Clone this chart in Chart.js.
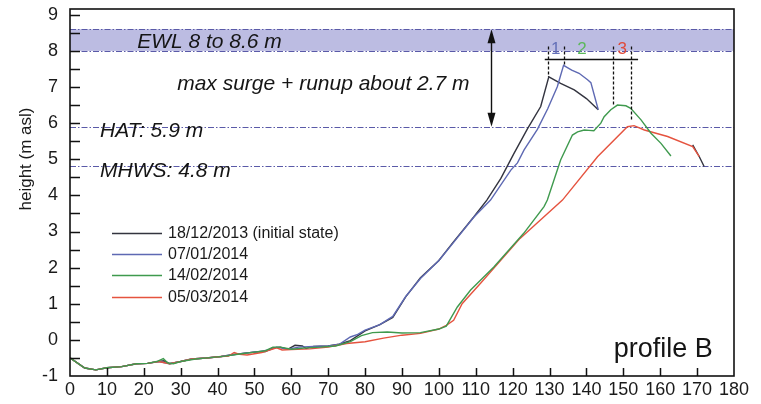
<!DOCTYPE html>
<html>
<head>
<meta charset="utf-8">
<script src="https://cdn.jsdelivr.net/npm/chart.js@4.4.0/dist/chart.umd.min.js"></script>
<style>
  html, body { margin: 0; padding: 0; background: #fff; }
  #c { display: block; }
</style>
</head>
<body>
<canvas id="c" width="761" height="404"></canvas>
<script>
// beach profile B — cross-shore distance (m) vs height (m asl)
const seriesLabels = ['18/12/2013 (initial state)', '07/01/2014', '14/02/2014', '05/03/2014'];
const seriesColors = ['#33343f', '#5e69b3', '#3f9a4e', '#e5533f'];

const distDec13 = [0, 4, 7, 10, 14, 18, 21, 24, 25.5, 27, 30, 33, 37, 41, 44, 48, 51, 53, 55, 57, 59, 61, 63, 64, 66, 70, 73, 76, 80, 84, 87.5, 91, 95, 100, 104, 109.5, 113, 116.8, 120.4, 124, 127.6, 129.8, 133, 136.7, 140, 143.2, 156, 168.8, 170.6, 171.9];
const hDec13    = [-0.5, -0.78, -0.83, -0.77, -0.74, -0.66, -0.65, -0.6, -0.58, -0.66, -0.6, -0.53, -0.5, -0.46, -0.41, -0.36, -0.33, -0.32, -0.22, -0.2, -0.26, -0.15, -0.17, -0.24, -0.18, -0.17, -0.12, -0.02, 0.25, 0.42, 0.62, 1.19, 1.72, 2.2, 2.72, 3.41, 3.87, 4.47, 5.17, 5.84, 6.46, 7.28, 7.1, 6.92, 6.68, 6.37, null, 5.4, 5.07, 4.8];

const distJan14 = [0, 4, 7, 10, 14, 18, 21, 24, 27, 30, 33, 37, 41, 44, 48, 51, 54, 56, 59, 62, 66, 70, 73, 76, 78, 80, 84, 87.5, 91, 95, 100, 104, 109.5, 114, 119.5, 121.3, 123.1, 126.7, 129.5, 132.1, 133.8, 136, 138, 140.3, 141.2, 143.2];
const hJan14    = [-0.5, -0.78, -0.83, -0.77, -0.74, -0.66, -0.65, -0.6, -0.66, -0.6, -0.53, -0.5, -0.46, -0.41, -0.36, -0.33, -0.28, -0.2, -0.26, -0.2, -0.18, -0.17, -0.12, 0.08, 0.15, 0.27, 0.42, 0.65, 1.2, 1.7, 2.2, 2.7, 3.4, 3.87, 4.7, 4.9, 5.26, 5.83, 6.4, 7.01, 7.6, 7.47, 7.38, 7.2, 7.12, 6.37];

const distFeb14 = [0, 4, 7, 10, 14, 18, 21, 23.5, 25.3, 26.5, 28, 30, 34, 38, 42, 46, 50, 53, 55, 57, 60, 64, 68, 72, 76, 79, 82, 86, 90, 95, 100, 102, 105, 108.6, 114.9, 123, 128.5, 129.4, 133, 136.2, 137.6, 139.4, 140.7, 142, 143.9, 144.8, 146.6, 148.4, 150.7, 152, 154.8, 157.5, 160.2, 162.9];
const hFeb14    = [-0.5, -0.78, -0.83, -0.77, -0.74, -0.66, -0.65, -0.6, -0.52, -0.64, -0.66, -0.6, -0.53, -0.49, -0.45, -0.39, -0.34, -0.3, -0.2, -0.2, -0.26, -0.22, -0.2, -0.17, -0.05, 0.12, 0.2, 0.22, 0.19, 0.2, 0.3, 0.38, 0.91, 1.38, 2.02, 2.95, 3.69, 3.87, 4.98, 5.67, 5.76, 5.81, 5.8, 5.79, 6.0, 6.18, 6.37, 6.5, 6.48, 6.41, 6.09, 5.72, 5.44, 5.09];

const distMar14 = [0, 4, 7, 10, 14, 18, 21, 24, 27, 30, 33, 37, 41, 43, 44.5, 46, 48, 52, 56, 57.5, 60, 65, 70, 75, 80, 85, 90, 95, 100, 102, 104, 106.3, 111.3, 122, 133.5, 143, 151.1, 152.9, 155.7, 162, 168.8, 170.6];
const hMar14    = [-0.5, -0.78, -0.83, -0.77, -0.74, -0.66, -0.65, -0.6, -0.66, -0.6, -0.53, -0.5, -0.46, -0.45, -0.35, -0.4, -0.42, -0.35, -0.22, -0.28, -0.27, -0.25, -0.2, -0.1, -0.05, 0.05, 0.13, 0.18, 0.3, 0.4, 0.54, 1.0, 1.57, 2.81, 3.87, 5.07, 5.9, 5.93, 5.81, 5.63, 5.35, 5.07];

// reference water levels
const ewlBand = [8.0, 8.6];
const hatLevel = 5.9;
const mhwsLevel = 4.8;

// annotation anchors (data units)
const noteTexts = ['EWL 8 to 8.6 m', 'max surge + runup about 2.7 m', 'HAT: 5.9 m', 'MHWS: 4.8 m'];
const noteX     = [18.2, 29.05, 8.15, 8.15];
const noteY     = [8.08, 6.92, 5.62, 4.51];
const arrowX = 114;
const peakX = [129.7, 133.8, 147.2, 152];
const peakY = [7.28, 7.6, 6.5, 6.1];
const peakTop = 8.12;
const bracketY = 7.78, bracketFrom = 128.7, bracketTo = 154;
const peakNums = ['1', '2', '3'];
const peakNumX = [131.7, 138.8, 149.7];
const peakNumY = 7.92;
const peakNumColors = ['#6470b8', '#5cb85c', '#e04a3a'];

const FONT = "'Liberation Sans', Arial, sans-serif";
const LEVEL = '#5a5aa8';

const xy = (d, h) => d.map((x, i) => ({ x, y: h[i] }));

const overlay = {
  id: 'overlay',
  beforeDatasetsDraw(chart) {
    const { ctx, chartArea: a, scales: { x, y } } = chart;
    ctx.save();
    // EWL band
    ctx.fillStyle = '#bcbce2';
    ctx.fillRect(a.left, y.getPixelForValue(ewlBand[1]), a.width, y.getPixelForValue(ewlBand[0]) - y.getPixelForValue(ewlBand[1]));
    ctx.strokeStyle = LEVEL; ctx.lineWidth = 1;
    ctx.setLineDash([6, 2, 1.5, 2]);
    [...ewlBand, hatLevel, mhwsLevel].forEach(v => {
      const py = Math.round(y.getPixelForValue(v)) + 0.5;
      ctx.beginPath(); ctx.moveTo(a.left, py); ctx.lineTo(a.right, py); ctx.stroke();
    });
    ctx.restore();
  },
  afterDatasetsDraw(chart) {
    const { ctx, chartArea: a, scales: { x, y } } = chart;
    ctx.save();
    ctx.strokeStyle = '#111'; ctx.lineWidth = 1.5; ctx.setLineDash([]);
    // inward ticks
    ctx.beginPath();
    for (let v = -0.5; v <= 9; v += 0.5) {
      const py = Math.round(y.getPixelForValue(v)) + 0.5;
      ctx.moveTo(a.left, py); ctx.lineTo(a.left + 10, py);
    }
    for (let v = 10; v < 180; v += 10) {
      const px = Math.round(x.getPixelForValue(v)) + 0.5;
      ctx.moveTo(px, a.bottom); ctx.lineTo(px, a.bottom - 8);
    }
    ctx.stroke();
    // frame
    ctx.lineWidth = 1.6;
    ctx.strokeRect(a.left, a.top, a.width, a.height);

    // text notes
    ctx.fillStyle = '#151515';
    ctx.font = `italic 21px ${FONT}`;
    ctx.textBaseline = 'alphabetic'; ctx.textAlign = 'left';
    noteTexts.forEach((t, i) => ctx.fillText(t, x.getPixelForValue(noteX[i]), y.getPixelForValue(noteY[i])));

    ctx.font = `27px ${FONT}`;
    ctx.fillText('profile B', x.getPixelForValue(147.4), y.getPixelForValue(-0.48));

    // double arrow
    const ax = Math.round(x.getPixelForValue(arrowX)) + 0.5;
    const aTop = y.getPixelForValue(ewlBand[1]), aBot = y.getPixelForValue(hatLevel);
    ctx.lineWidth = 1.4;
    ctx.beginPath(); ctx.moveTo(ax, aTop + 6); ctx.lineTo(ax, aBot - 6); ctx.stroke();
    ctx.fillStyle = '#111';
    ctx.beginPath(); ctx.moveTo(ax, aTop); ctx.lineTo(ax - 4, aTop + 14); ctx.lineTo(ax + 4, aTop + 14); ctx.closePath(); ctx.fill();
    ctx.beginPath(); ctx.moveTo(ax, aBot); ctx.lineTo(ax - 4, aBot - 14); ctx.lineTo(ax + 4, aBot - 14); ctx.closePath(); ctx.fill();

    // peak markers
    ctx.lineWidth = 1.5;
    const by = Math.round(y.getPixelForValue(bracketY)) + 0.5;
    ctx.beginPath(); ctx.moveTo(x.getPixelForValue(bracketFrom), by); ctx.lineTo(x.getPixelForValue(bracketTo), by); ctx.stroke();
    ctx.setLineDash([3, 2]); ctx.lineWidth = 1.3;
    peakX.forEach((v, i) => {
      const px = Math.round(x.getPixelForValue(v)) + 0.5;
      ctx.beginPath(); ctx.moveTo(px, y.getPixelForValue(peakTop)); ctx.lineTo(px, y.getPixelForValue(peakY[i])); ctx.stroke();
    });
    ctx.setLineDash([]);
    ctx.font = `17px ${FONT}`; ctx.textAlign = 'center';
    peakNums.forEach((t, i) => {
      ctx.fillStyle = peakNumColors[i];
      ctx.fillText(t, x.getPixelForValue(peakNumX[i]), y.getPixelForValue(peakNumY));
    });

    // legend
    ctx.font = `16px ${FONT}`; ctx.textAlign = 'left'; ctx.textBaseline = 'middle';
    const rows = [233, 254, 275, 297];
    chart.data.datasets.forEach((ds, i) => {
      ctx.strokeStyle = ds.borderColor; ctx.lineWidth = 1.5;
      ctx.beginPath(); ctx.moveTo(112, rows[i] + 0.5); ctx.lineTo(162, rows[i] + 0.5); ctx.stroke();
      ctx.fillStyle = '#1a1a1a';
      ctx.fillText(ds.label, 168, rows[i] + 1);
    });

    // y axis title
    ctx.translate(26, 159); ctx.rotate(-Math.PI / 2);
    ctx.textAlign = 'center'; ctx.font = `17px ${FONT}`;
    ctx.fillText('height (m asl)', 0, 0);
    ctx.restore();
  }
};

const mk = (i, d, h, order) => ({
  label: seriesLabels[i], data: xy(d, h), borderColor: seriesColors[i],
  borderWidth: 1.4, pointRadius: 0, tension: 0, spanGaps: false, order,
});

new Chart(document.getElementById('c'), {
  type: 'line',
  data: {
    datasets: [
      mk(0, distDec13, hDec13, 3),
      mk(1, distJan14, hJan14, 2),
      mk(2, distFeb14, hFeb14, 0),
      mk(3, distMar14, hMar14, 1),
    ],
  },
  plugins: [overlay],
  options: {
    responsive: false, animation: false, devicePixelRatio: 1,
    layout: { padding: { left: 0, top: 9, right: 27, bottom: 0 } },
    plugins: { legend: { display: false }, tooltip: { enabled: false } },
    scales: {
      x: {
        type: 'linear', min: 0, max: 180,
        afterFit: s => { s.height = 28; s.paddingLeft = 0; s.paddingRight = 0; },
        ticks: { stepSize: 10, color: '#1a1a1a', padding: 3, maxRotation: 0, font: { family: FONT, size: 18 } },
        grid: { display: false, drawTicks: false }, border: { display: false },
      },
      y: {
        min: -1, max: 9.16,
        afterFit: s => { s.width = 70; s.paddingTop = 0; s.paddingBottom = 0; },
        ticks: { stepSize: 1, includeBounds: false, color: '#1a1a1a', padding: 12, font: { family: FONT, size: 18 } },
        grid: { display: false, drawTicks: false }, border: { display: false },
      },
    },
  },
});
</script>
</body>
</html>
